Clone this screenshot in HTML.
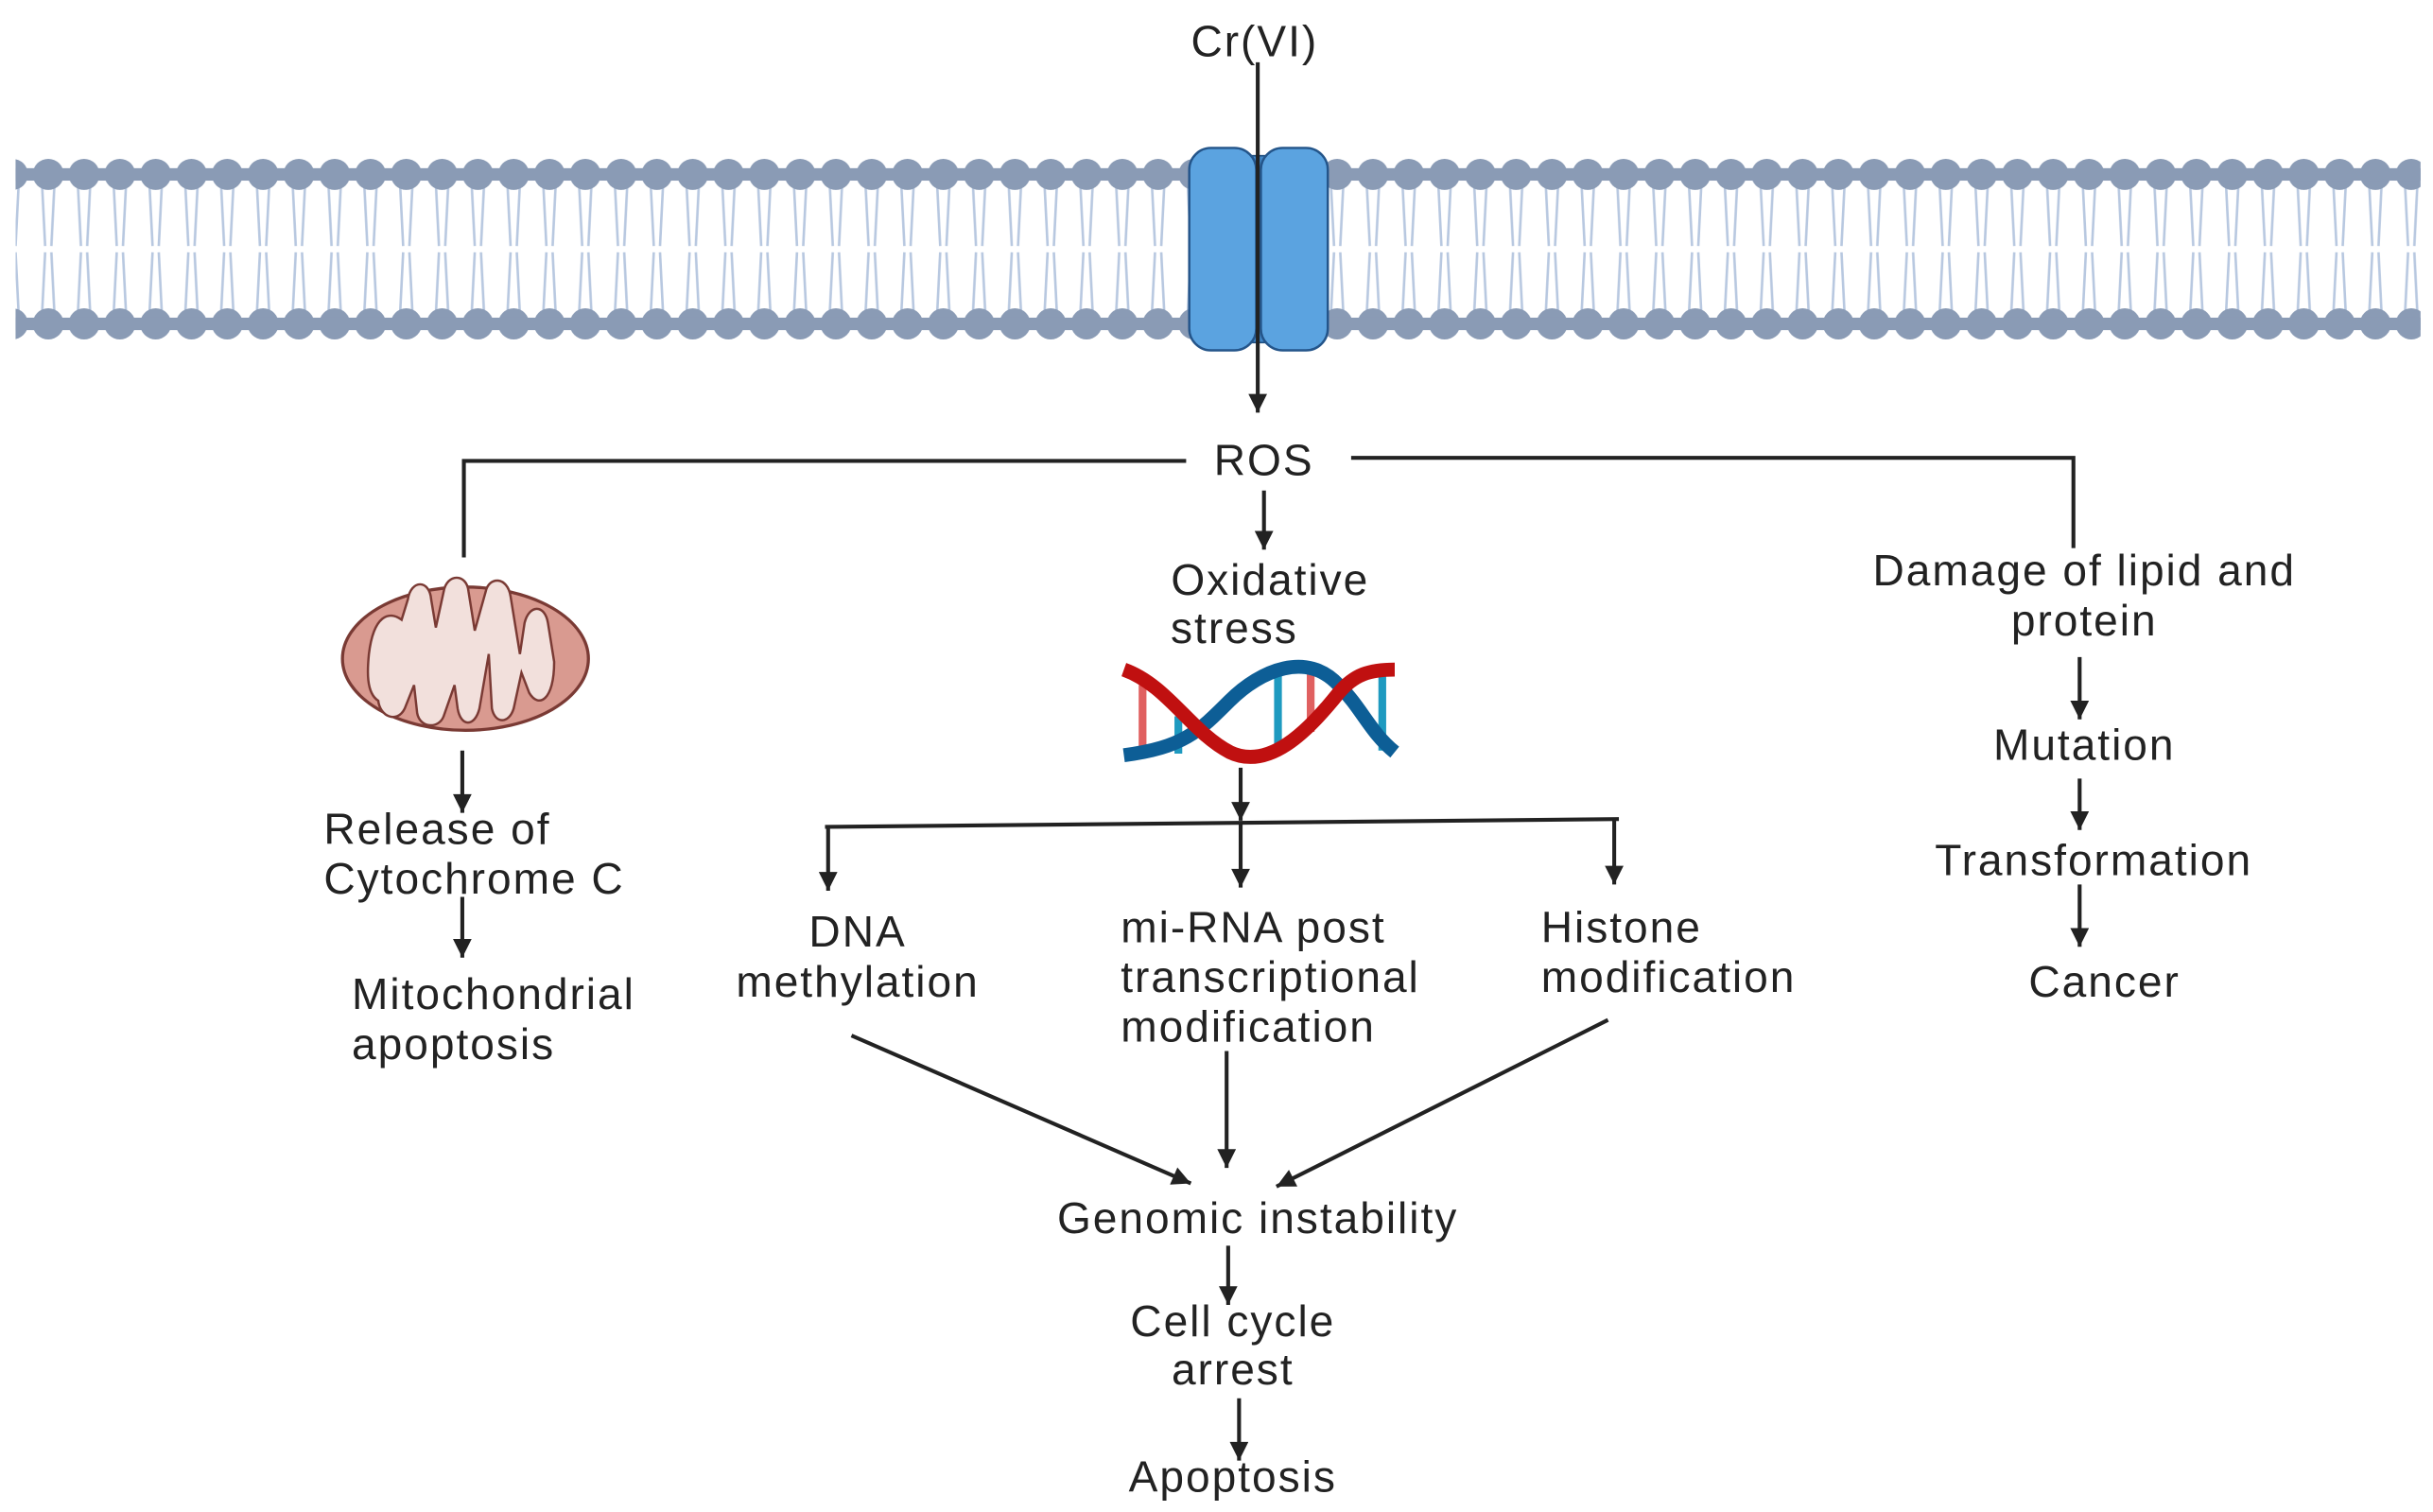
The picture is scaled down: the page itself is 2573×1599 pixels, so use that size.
<!DOCTYPE html>
<html><head><meta charset="utf-8"><style>
html,body{margin:0;padding:0;background:#fff;}
svg{display:block}
text{font-family:"Liberation Sans",sans-serif;font-size:28px;letter-spacing:1.2px;fill:#222;}
</style></head><body>
<svg width="2573" height="1599" viewBox="0 0 1563 971" preserveAspectRatio="none" xmlns="http://www.w3.org/2000/svg">
<defs>
<marker id="a" viewBox="0 0 10 10" refX="10" refY="5" markerWidth="14" markerHeight="12" orient="auto" markerUnits="userSpaceOnUse">
<path d="M0,0 L10,5 L0,10 z" fill="#222"/>
</marker>
<pattern id="tails" x="20" y="0" width="23" height="971" patternUnits="userSpaceOnUse">
<path d="M7,118 L9,158 M15,118 L13,158 M7,202 L9,162 M15,202 L13,162" stroke="#b8c8e0" stroke-width="1.6" fill="none"/>
</pattern>
<pattern id="heads" x="20" y="0" width="23" height="971" patternUnits="userSpaceOnUse">
<circle cx="11" cy="112" r="10" fill="#8a9bb5"/>
<circle cx="11" cy="208" r="10" fill="#8a9bb5"/>
</pattern>
</defs>
<rect x="10" y="100" width="1545" height="120" fill="url(#tails)"/>
<rect x="10" y="100" width="1545" height="120" fill="url(#heads)"/>
<rect x="10" y="108" width="1545" height="8" fill="#8a9bb5"/>
<rect x="10" y="204" width="1545" height="8" fill="#8a9bb5"/>
<rect x="795" y="100" width="26" height="120" fill="#3f86c8" stroke="#1f4f80" stroke-width="1"/>
<rect x="764" y="95" width="43" height="130" rx="14" fill="#5ba3e0" stroke="#24558a" stroke-width="1.5"/>
<rect x="810" y="95" width="43" height="130" rx="14" fill="#5ba3e0" stroke="#24558a" stroke-width="1.5"/>
<text x="806" y="36" text-anchor="middle">Cr(VI)</text>
<g stroke="#222" stroke-width="2.5" fill="none">
<line x1="808" y1="40" x2="808" y2="265" marker-end="url(#a)"/>
<polyline points="762,296 298,296 298,358"/>
<polyline points="868,294 1332,294 1332,352"/>
<line x1="812" y1="315" x2="812" y2="353" marker-end="url(#a)"/>
<line x1="797" y1="493" x2="797" y2="527" marker-end="url(#a)"/>
<line x1="530" y1="531" x2="1040" y2="526"/>
<line x1="532" y1="531" x2="532" y2="572" marker-end="url(#a)"/>
<line x1="797" y1="529" x2="797" y2="570" marker-end="url(#a)"/>
<line x1="1037" y1="526" x2="1037" y2="568" marker-end="url(#a)"/>
<line x1="547" y1="665" x2="765" y2="760" marker-end="url(#a)"/>
<line x1="788" y1="675" x2="788" y2="750" marker-end="url(#a)"/>
<line x1="1033" y1="655" x2="820" y2="762" marker-end="url(#a)"/>
<line x1="789" y1="800" x2="789" y2="838" marker-end="url(#a)"/>
<line x1="796" y1="898" x2="796" y2="938" marker-end="url(#a)"/>
<line x1="297" y1="482" x2="297" y2="522" marker-end="url(#a)"/>
<line x1="297" y1="576" x2="297" y2="615" marker-end="url(#a)"/>
<line x1="1336" y1="422" x2="1336" y2="462" marker-end="url(#a)"/>
<line x1="1336" y1="500" x2="1336" y2="533" marker-end="url(#a)"/>
<line x1="1336" y1="568" x2="1336" y2="608" marker-end="url(#a)"/>
</g>
<ellipse cx="299" cy="423" rx="79" ry="46" fill="#d99a90" stroke="#7a3a34" stroke-width="2"/>
<path d="M237,420 C240,395 250,392 258,398 L262,385 C264,372 276,372 277,385 L280,403 L285,380 C287,368 300,368 301,380 L305,405 L312,380 C314,370 326,370 328,383 L334,420 L337,400 C340,388 350,388 352,400 L356,425 C356,450 346,455 340,445 L335,432 L330,455 C327,465 318,465 316,455 L314,420 L308,455 C305,467 296,467 294,455 L292,440 L285,460 C282,468 270,468 268,458 L266,440 L260,455 C255,465 244,460 243,450 C235,445 236,430 237,420 z" fill="#f2e0dc" stroke="#7a3a34" stroke-width="1.5"/>
<g stroke-width="5">
<line x1="734" y1="440" x2="734" y2="486" stroke="#e06060"/>
<line x1="821" y1="432" x2="821" y2="482" stroke="#1e9ac0"/>
<line x1="842" y1="430" x2="842" y2="470" stroke="#e06060"/>
<line x1="888" y1="432" x2="888" y2="482" stroke="#1e9ac0"/>
<line x1="757" y1="460" x2="757" y2="484" stroke="#1e9ac0"/>
</g>
<path d="M722,485 C760,480 770,470 790,450 C810,430 840,418 860,440 C875,455 880,470 896,483" stroke="#0d5e96" stroke-width="9" fill="none"/>
<path d="M722,430 C750,440 765,470 790,483 C815,495 840,470 860,445 C870,433 880,430 896,430" stroke="#c01010" stroke-width="9" fill="none"/>
<text x="812" y="305" text-anchor="middle">ROS</text>
<text x="816" y="382" text-anchor="middle">Oxidative</text>
<text x="793" y="413" text-anchor="middle">stress</text>
<text x="208" y="542">Release of</text>
<text x="208" y="574">Cytochrome C</text>
<text x="226" y="648">Mitochondrial</text>
<text x="226" y="680">apoptosis</text>
<text x="551" y="608" text-anchor="middle">DNA</text>
<text x="551" y="640" text-anchor="middle">methylation</text>
<text x="720" y="605">mi-RNA post</text>
<text x="720" y="637">transcriptional</text>
<text x="720" y="669">modification</text>
<text x="990" y="605">Histone</text>
<text x="990" y="637">modification</text>
<text x="808" y="792" text-anchor="middle">Genomic instability</text>
<text x="792" y="858" text-anchor="middle">Cell cycle</text>
<text x="792" y="889" text-anchor="middle">arrest</text>
<text x="792" y="958" text-anchor="middle">Apoptosis</text>
<text x="1339" y="376" text-anchor="middle">Damage of lipid and</text>
<text x="1339" y="408" text-anchor="middle">protein</text>
<text x="1339" y="488" text-anchor="middle">Mutation</text>
<text x="1345" y="562" text-anchor="middle">Transformation</text>
<text x="1352" y="640" text-anchor="middle">Cancer</text>
</svg>
</body></html>
